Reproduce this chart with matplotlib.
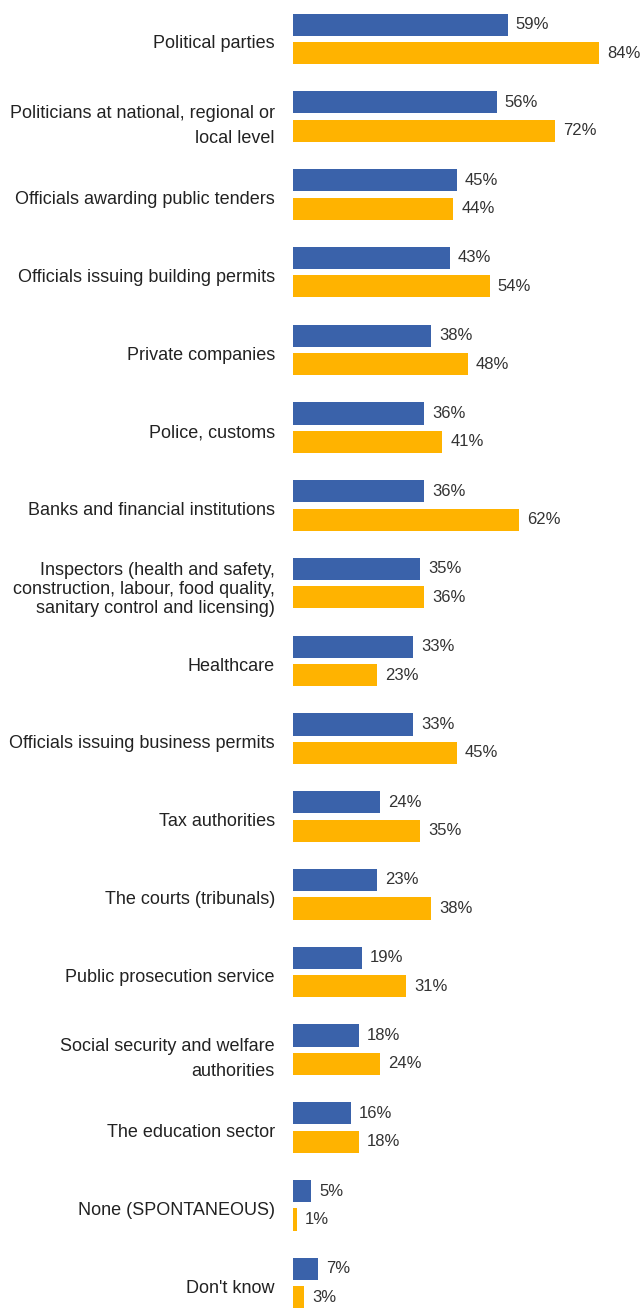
import matplotlib.pyplot as plt
import numpy as np
from matplotlib import font_manager

categories = [
    "Political parties",
    "Politicians at national, regional or\nlocal level",
    "Officials awarding public tenders",
    "Officials issuing building permits",
    "Private companies",
    "Police, customs",
    "Banks and financial institutions",
    "Inspectors (health and safety,\nconstruction, labour, food quality,\nsanitary control and licensing)",
    "Healthcare",
    "Officials issuing business permits",
    "Tax authorities",
    "The courts (tribunals)",
    "Public prosecution service",
    "Social security and welfare\nauthorities",
    "The education sector",
    "None (SPONTANEOUS)",
    "Don't know",
]
blue_values = [59, 56, 45, 43, 38, 36, 36, 35, 33, 33, 24, 23, 19, 18, 16, 5, 7]
orange_values = [84, 72, 44, 54, 48, 41, 62, 36, 23, 45, 35, 38, 31, 24, 18, 1, 3]

names = {f.name for f in font_manager.fontManager.ttflist}
family = "Liberation Sans Narrow" if "Liberation Sans Narrow" in names else "Liberation Sans"
plt.rcParams["font.family"] = [family, "DejaVu Sans"]

BLUE = "#3A62AA"
ORANGE = "#FFB300"

fig = plt.figure(figsize=(6.43, 13.11), dpi=100)
ax = fig.add_axes([293 / 643, 0, 1 - 293 / 643, 1])

y = np.arange(len(categories))
h = 0.285
off = 0.183
ax.barh(y - off, blue_values, h, color=BLUE)
ax.barh(y + off, orange_values, h, color=ORANGE)

for yi, v in zip(y, blue_values):
    ax.text(v + 2.2, yi - off, f"{v}%", va="center", ha="left", fontsize=12, color="#333333")
for yi, v in zip(y, orange_values):
    ax.text(v + 2.2, yi + off, f"{v}%", va="center", ha="left", fontsize=12, color="#333333")

ax.set_xlim(0, 350 / 3.64)
ax.set_ylim(16.36, -0.50)
ax.set_yticks(y + 0.04, categories)
ax.tick_params(axis="y", length=0, pad=13, labelsize=13, labelcolor="#222222")
for lab in ax.get_yticklabels():
    lab.set_horizontalalignment("right")
    lab.set_multialignment("right")
    n = lab.get_text().count("\n") + 1
    lab.set_linespacing(1.6 if n == 2 else 1.15)
ax.set_xticks([])
for s in ax.spines.values():
    s.set_visible(False)

fig.savefig("out.png", dpi=100)
